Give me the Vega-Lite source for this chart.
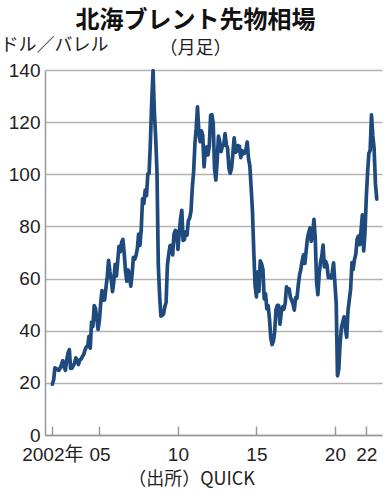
{
  "$schema": "https://vega.github.io/schema/vega-lite/v6.json",
  "width": 337,
  "height": 365,
  "autosize": {"type": "none"},
  "padding": {"left": 45, "top": 70, "right": 9, "bottom": 60},
  "background": "white",
  "config": {"view": {"stroke": null}},
  "title": {
    "text": "北海ブレント先物相場",
    "subtitle": "（月足）",
    "anchor": "middle",
    "frame": "group",
    "dx": -18,
    "dy": 36,
    "offset": 14,
    "font": "Noto Sans CJK JP",
    "fontSize": 24,
    "fontWeight": "bold",
    "color": "#111",
    "subtitleFont": "Noto Sans CJK JP",
    "subtitleFontSize": 18,
    "subtitleFontWeight": "normal",
    "subtitleColor": "#222",
    "subtitlePadding": 7
  },
  "data": {
    "values": [
      {"date":"2002-01-01","price":19.5},{"date":"2002-02-01","price":21.2},{"date":"2002-03-01","price":25.8},{"date":"2002-04-01","price":25.5},{"date":"2002-05-01","price":25.0},{"date":"2002-06-01","price":24.8},{"date":"2002-07-01","price":25.7},{"date":"2002-08-01","price":27.0},{"date":"2002-09-01","price":28.5},{"date":"2002-10-01","price":26.0},{"date":"2002-11-01","price":24.8},{"date":"2002-12-01","price":28.7},
      {"date":"2003-01-01","price":31.5},{"date":"2003-02-01","price":32.7},{"date":"2003-03-01","price":25.5},{"date":"2003-04-01","price":25.6},{"date":"2003-05-01","price":26.5},{"date":"2003-06-01","price":27.6},{"date":"2003-07-01","price":29.6},{"date":"2003-08-01","price":28.4},{"date":"2003-09-01","price":27.0},{"date":"2003-10-01","price":28.8},{"date":"2003-11-01","price":29.1},{"date":"2003-12-01","price":30.1},
      {"date":"2004-01-01","price":30.9},{"date":"2004-02-01","price":32.6},{"date":"2004-03-01","price":33.8},{"date":"2004-04-01","price":33.9},{"date":"2004-05-01","price":37.8},{"date":"2004-06-01","price":33.3},{"date":"2004-07-01","price":43.3},{"date":"2004-08-01","price":41.6},{"date":"2004-09-01","price":49.6},{"date":"2004-10-01","price":48.6},{"date":"2004-11-01","price":44.4},{"date":"2004-12-01","price":40.5},
      {"date":"2005-01-01","price":44.2},{"date":"2005-02-01","price":51.0},{"date":"2005-03-01","price":55.4},{"date":"2005-04-01","price":51.7},{"date":"2005-05-01","price":51.8},{"date":"2005-06-01","price":56.5},{"date":"2005-07-01","price":60.6},{"date":"2005-08-01","price":67.0},{"date":"2005-09-01","price":62.6},{"date":"2005-10-01","price":59.6},{"date":"2005-11-01","price":55.0},{"date":"2005-12-01","price":58.9},
      {"date":"2006-01-01","price":65.5},{"date":"2006-02-01","price":61.0},{"date":"2006-03-01","price":66.5},{"date":"2006-04-01","price":72.4},{"date":"2006-05-01","price":70.3},{"date":"2006-06-01","price":73.9},{"date":"2006-07-01","price":75.0},{"date":"2006-08-01","price":69.5},{"date":"2006-09-01","price":62.5},{"date":"2006-10-01","price":59.0},{"date":"2006-11-01","price":63.3},{"date":"2006-12-01","price":60.9},
      {"date":"2007-01-01","price":57.1},{"date":"2007-02-01","price":61.8},{"date":"2007-03-01","price":68.1},{"date":"2007-04-01","price":67.4},{"date":"2007-05-01","price":68.8},{"date":"2007-06-01","price":71.4},{"date":"2007-07-01","price":77.1},{"date":"2007-08-01","price":72.7},{"date":"2007-09-01","price":79.2},{"date":"2007-10-01","price":90.6},{"date":"2007-11-01","price":88.8},{"date":"2007-12-01","price":93.9},
      {"date":"2008-01-01","price":91.8},{"date":"2008-02-01","price":100.1},{"date":"2008-03-01","price":100.3},{"date":"2008-04-01","price":112.6},{"date":"2008-05-01","price":127.8},{"date":"2008-06-01","price":139.8},{"date":"2008-07-01","price":124.1},{"date":"2008-08-01","price":114.1},{"date":"2008-09-01","price":100.6},{"date":"2008-10-01","price":65.3},{"date":"2008-11-01","price":53.5},{"date":"2008-12-01","price":45.6},
      {"date":"2009-01-01","price":45.9},{"date":"2009-02-01","price":46.4},{"date":"2009-03-01","price":49.2},{"date":"2009-04-01","price":50.9},{"date":"2009-05-01","price":65.1},{"date":"2009-06-01","price":69.3},{"date":"2009-07-01","price":72.6},{"date":"2009-08-01","price":72.8},{"date":"2009-09-01","price":69.1},{"date":"2009-10-01","price":77.0},{"date":"2009-11-01","price":78.5},{"date":"2009-12-01","price":77.9},
      {"date":"2010-01-01","price":71.2},{"date":"2010-02-01","price":77.6},{"date":"2010-03-01","price":82.7},{"date":"2010-04-01","price":86.2},{"date":"2010-05-01","price":74.6},{"date":"2010-06-01","price":75.0},{"date":"2010-07-01","price":77.9},{"date":"2010-08-01","price":76.7},{"date":"2010-09-01","price":82.3},{"date":"2010-10-01","price":83.2},{"date":"2010-11-01","price":85.9},{"date":"2010-12-01","price":94.8},
      {"date":"2011-01-01","price":101.0},{"date":"2011-02-01","price":111.8},{"date":"2011-03-01","price":117.4},{"date":"2011-04-01","price":125.9},{"date":"2011-05-01","price":116.7},{"date":"2011-06-01","price":112.5},{"date":"2011-07-01","price":116.7},{"date":"2011-08-01","price":114.9},{"date":"2011-09-01","price":102.8},{"date":"2011-10-01","price":109.6},{"date":"2011-11-01","price":110.5},{"date":"2011-12-01","price":107.4},
      {"date":"2012-01-01","price":110.9},{"date":"2012-02-01","price":122.7},{"date":"2012-03-01","price":122.9},{"date":"2012-04-01","price":119.5},{"date":"2012-05-01","price":102.4},{"date":"2012-06-01","price":97.8},{"date":"2012-07-01","price":104.9},{"date":"2012-08-01","price":114.6},{"date":"2012-09-01","price":112.4},{"date":"2012-10-01","price":108.7},{"date":"2012-11-01","price":110.9},{"date":"2012-12-01","price":111.1},
      {"date":"2013-01-01","price":115.6},{"date":"2013-02-01","price":111.4},{"date":"2013-03-01","price":110.0},{"date":"2013-04-01","price":102.4},{"date":"2013-05-01","price":100.4},{"date":"2013-06-01","price":102.2},{"date":"2013-07-01","price":107.7},{"date":"2013-08-01","price":114.0},{"date":"2013-09-01","price":108.4},{"date":"2013-10-01","price":108.8},{"date":"2013-11-01","price":111.0},{"date":"2013-12-01","price":110.8},
      {"date":"2014-01-01","price":106.4},{"date":"2014-02-01","price":109.1},{"date":"2014-03-01","price":107.8},{"date":"2014-04-01","price":108.1},{"date":"2014-05-01","price":109.4},{"date":"2014-06-01","price":112.4},{"date":"2014-07-01","price":106.0},{"date":"2014-08-01","price":103.2},{"date":"2014-09-01","price":94.7},{"date":"2014-10-01","price":85.9},{"date":"2014-11-01","price":70.2},{"date":"2014-12-01","price":57.3},
      {"date":"2015-01-01","price":53.0},{"date":"2015-02-01","price":62.6},{"date":"2015-03-01","price":55.1},{"date":"2015-04-01","price":66.8},{"date":"2015-05-01","price":65.6},{"date":"2015-06-01","price":63.6},{"date":"2015-07-01","price":52.2},{"date":"2015-08-01","price":54.2},{"date":"2015-09-01","price":48.4},{"date":"2015-10-01","price":49.6},{"date":"2015-11-01","price":44.6},{"date":"2015-12-01","price":37.3},
      {"date":"2016-01-01","price":34.7},{"date":"2016-02-01","price":36.0},{"date":"2016-03-01","price":39.6},{"date":"2016-04-01","price":48.1},{"date":"2016-05-01","price":49.7},{"date":"2016-06-01","price":49.7},{"date":"2016-07-01","price":42.5},{"date":"2016-08-01","price":47.0},{"date":"2016-09-01","price":49.1},{"date":"2016-10-01","price":48.3},{"date":"2016-11-01","price":50.5},{"date":"2016-12-01","price":56.8},
      {"date":"2017-01-01","price":55.7},{"date":"2017-02-01","price":56.0},{"date":"2017-03-01","price":52.8},{"date":"2017-04-01","price":51.7},{"date":"2017-05-01","price":50.3},{"date":"2017-06-01","price":47.9},{"date":"2017-07-01","price":52.7},{"date":"2017-08-01","price":52.4},{"date":"2017-09-01","price":57.5},{"date":"2017-10-01","price":61.4},{"date":"2017-11-01","price":63.6},{"date":"2017-12-01","price":66.9},
      {"date":"2018-01-01","price":69.1},{"date":"2018-02-01","price":65.8},{"date":"2018-03-01","price":70.3},{"date":"2018-04-01","price":75.2},{"date":"2018-05-01","price":77.6},{"date":"2018-06-01","price":79.4},{"date":"2018-07-01","price":74.3},{"date":"2018-08-01","price":77.4},{"date":"2018-09-01","price":82.7},{"date":"2018-10-01","price":75.5},{"date":"2018-11-01","price":58.7},{"date":"2018-12-01","price":53.8},
      {"date":"2019-01-01","price":61.9},{"date":"2019-02-01","price":66.3},{"date":"2019-03-01","price":68.4},{"date":"2019-04-01","price":72.8},{"date":"2019-05-01","price":64.5},{"date":"2019-06-01","price":66.6},{"date":"2019-07-01","price":65.2},{"date":"2019-08-01","price":60.4},{"date":"2019-09-01","price":60.8},{"date":"2019-10-01","price":60.2},{"date":"2019-11-01","price":62.4},{"date":"2019-12-01","price":66.0},
      {"date":"2020-01-01","price":58.2},{"date":"2020-02-01","price":50.5},{"date":"2020-03-01","price":22.7},{"date":"2020-04-01","price":25.3},{"date":"2020-05-01","price":35.3},{"date":"2020-06-01","price":41.2},{"date":"2020-07-01","price":43.3},{"date":"2020-08-01","price":45.3},{"date":"2020-09-01","price":40.9},{"date":"2020-10-01","price":37.5},{"date":"2020-11-01","price":47.6},{"date":"2020-12-01","price":51.8},
      {"date":"2021-01-01","price":55.9},{"date":"2021-02-01","price":66.1},{"date":"2021-03-01","price":63.5},{"date":"2021-04-01","price":67.3},{"date":"2021-05-01","price":69.3},{"date":"2021-06-01","price":75.1},{"date":"2021-07-01","price":76.3},{"date":"2021-08-01","price":73.0},{"date":"2021-09-01","price":78.5},{"date":"2021-10-01","price":84.4},{"date":"2021-11-01","price":70.6},{"date":"2021-12-01","price":77.8},
      {"date":"2022-01-01","price":91.2},{"date":"2022-02-01","price":101.0},{"date":"2022-03-01","price":107.9},{"date":"2022-04-01","price":109.3},{"date":"2022-05-01","price":122.8},{"date":"2022-06-01","price":114.8},{"date":"2022-07-01","price":110.0},{"date":"2022-08-01","price":96.5},{"date":"2022-09-01","price":90.5}
    ]
  },
  "mark": {"type": "line", "color": "#1f4a7d", "strokeWidth": 3.7, "strokeJoin": "round", "strokeCap": "round"},
  "encoding": {
    "x": {
      "field": "date",
      "type": "temporal",
      "scale": {"domain": [{"year": 2001, "month": 7, "date": 14}, {"year": 2023, "month": 1, "date": 1}]},
      "axis": {
        "values": [{"year": 2002, "month": 1, "date": 1}, {"year": 2005, "month": 1, "date": 1}, {"year": 2010, "month": 1, "date": 1}, {"year": 2015, "month": 1, "date": 1}, {"year": 2020, "month": 1, "date": 1}, {"year": 2022, "month": 1, "date": 1}],
        "labelExpr": "year(datum.value) == 2002 ? '2002年' : timeFormat(datum.value, '%y')",
        "labelFont": "Liberation Sans, Noto Sans CJK JP",
        "labelFontSize": 19,
        "labelColor": "#222",
        "labelFlush": false,
        "labelPadding": 19,
        "grid": false,
        "domainColor": "#999",
        "domainWidth": 1.5,
        "tickColor": "#999",
        "tickWidth": 1.5,
        "tickSize": -9,
        "title": "（出所）QUICK",
        "titleFont": "Noto Sans CJK JP",
        "titleFontSize": 18,
        "titleFontWeight": "normal",
        "titleColor": "#222",
        "titleAnchor": null,
        "titleAlign": "center",
        "titleBaseline": "alphabetic",
        "titleX": 146,
        "titleY": 49
      }
    },
    "y": {
      "field": "price",
      "type": "quantitative",
      "scale": {"domain": [0, 140], "nice": false},
      "axis": {
        "values": [0, 20, 40, 60, 80, 100, 120, 140],
        "labelFont": "Liberation Sans",
        "labelFontSize": 19,
        "labelColor": "#222",
        "labelPadding": 5,
        "ticks": false,
        "grid": true,
        "gridColor": "#b3b3b3",
        "gridWidth": 1.5,
        "domainColor": "#999",
        "domainWidth": 1.5,
        "title": "ドル／バレル",
        "titleFont": "Noto Sans CJK JP",
        "titleFontSize": 18,
        "titleFontWeight": "normal",
        "titleColor": "#222",
        "titleAngle": 0,
        "titleAlign": "left",
        "titleBaseline": "top",
        "titleX": -45,
        "titleY": -34
      }
    }
  }
}
